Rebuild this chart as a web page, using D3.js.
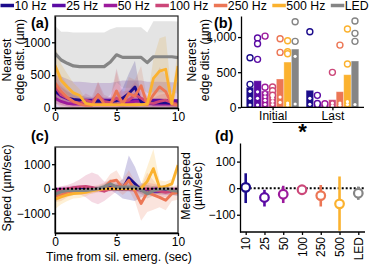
<!DOCTYPE html>
<html lang="en">
<head>
<meta charset="UTF-8">
<title>Distance and speed</title>
<script src="https://cdnjs.cloudflare.com/ajax/libs/d3/7.8.5/d3.min.js"></script>
<style>
  body { margin: 0; background: #fff; }
  svg { font-family: "Liberation Sans", Arial, sans-serif; }
  .axis path, .axis line { stroke: #000; stroke-width: 1.3; }
  .axis text { font-size: 12px; fill: #000; font-family: "Liberation Sans", Arial, sans-serif; }
  .title { font-size: 12.3px; fill: #000; }
  .panel { font-size: 14.5px; font-weight: bold; }
</style>
</head>
<body>
<svg id="chart" width="375" height="264"></svg>
<script>
// series names / colours
const freqs = ["10 Hz", "25 Hz", "50 Hz", "100 Hz", "250 Hz", "500 Hz", "LED"];
const freqTicks = ["10", "25", "50", "100", "250", "500", "LED"];
const colors = ["#1c0c8c", "#5b0ba4", "#9c1a9c", "#cc4779", "#ec7655", "#fbb22f", "#858585"];

const time = [0, 0.5, 1, 1.5, 2, 2.5, 3, 3.5, 4, 4.5, 5, 5.5, 6, 6.5, 7, 7.5, 8, 8.5, 9, 9.5, 10];

// (a) nearest edge distance over time (mean, spread)
const dist10 = [260, 200, 150, 130, 120, 110, 100, 100, 100, 100, 110, 150, 220, 320, 90, 80, 80, 80, 80, 70, 70];
const dist25 = [250, 180, 140, 120, 120, 120, 120, 120, 120, 120, 120, 120, 120, 120, 120, 120, 120, 120, 115, 110, 110];
const dist50 = [150, 100, 70, 60, 60, 60, 60, 60, 60, 60, 60, 60, 80, 100, 100, 80, 60, 60, 60, 60, 60];
const dist100 = [330, 200, 150, 90, 70, 120, 90, 200, 100, 80, 150, 100, 120, 200, 150, 80, 70, 100, 120, 80, 60];
const dist250 = [380, 250, 160, 100, 60, 40, 40, 200, 60, 50, 260, 60, 220, 180, 340, 50, 200, 320, 250, 60, 40];
const dist500 = [650, 420, 320, 230, 190, 70, 50, 50, 50, 50, 50, 50, 50, 50, 50, 60, 450, 560, 590, 70, 640];
const distLED = [830, 730, 680, 640, 630, 630, 630, 630, 630, 700, 810, 770, 770, 770, 770, 690, 780, 780, 780, 780, 765];
const err10 = [150, 120, 100, 80, 70, 60, 60, 60, 60, 60, 80, 150, 300, 400, 80, 60, 60, 60, 60, 60, 60];
const err25 = [250, 300, 300, 280, 280, 270, 260, 260, 260, 260, 280, 300, 300, 300, 300, 280, 280, 280, 280, 280, 280];
const err50 = [80, 60, 50, 40, 40, 40, 40, 40, 40, 40, 40, 40, 50, 60, 60, 50, 40, 40, 40, 40, 40];
const err100 = [200, 150, 120, 100, 80, 100, 80, 200, 100, 80, 450, 150, 150, 200, 150, 100, 80, 100, 100, 80, 60];
const err250 = [300, 250, 200, 150, 80, 60, 60, 200, 80, 60, 300, 80, 250, 250, 300, 80, 200, 300, 250, 80, 60];
const err500 = [300, 250, 200, 150, 100, 60, 40, 40, 40, 40, 40, 40, 40, 40, 40, 60, 300, 500, 500, 100, 300];
const errLED = [420, 430, 480, 510, 520, 520, 520, 520, 520, 500, 420, 460, 460, 460, 460, 460, 540, 540, 540, 540, 550];

// (b) initial / last distance, bar means and single points
const groups = ["Initial", "Last"];
const barInitial = [285, 378, 232, 151, 403, 644, 829];
const barLast = [242, 51, 42, 108, 222, 464, 659];
const ptsInitial = [
  [706, 327, 228, 128, 33],
  [986, 905, 683, 220, 128, 33],
  [1014, 285, 200, 150, 100, 40],
  [290, 235, 172, 130, 85, 40],
  [976, 782, 145, 70],
  [948, 791, 762, 60, 30],
  [1218, 939, 726, 47]
];
const ptsLast = [
  [1076, 128, 42],
  [170, 55, 30],
  [50, 20],
  [498, 60, 20],
  [886, 60, 30],
  [1114, 616, 80, 40],
  [1228, 1053, 939, 40]
];

// (c) speed over time (mean, spread)
const spd10 = [-100, -60, -50, 0, 0, 0, 0, 0, 0, 50, 0, 0, 450, 200, -50, -50, -50, -80, -100, -100, -150];
const spd25 = [-150, -100, -60, -50, -30, -20, 0, 0, 0, 0, 0, 0, 0, 0, -50, -80, -100, -100, -80, -100, -120];
const spd50 = [-50, -20, 0, 30, 50, 20, 0, -20, -50, 0, 30, 0, 0, 0, -30, -50, -20, 0, 0, -50, -50];
const spd100 = [-100, -50, 0, 50, 80, 100, 60, -30, -100, 0, 100, 80, 50, 0, -20, 0, -50, -100, -150, -100, -50];
const spd250 = [-300, -250, -150, -100, -100, -50, -50, 0, 50, 300, 350, 50, 350, -100, -600, -150, -250, -350, -470, -200, -150];
const spd500 = [-430, -330, -250, -200, -180, -150, -80, -30, 0, 0, 0, 0, 0, 0, 20, 300, 820, 50, 100, 200, 960];
const spdLED = [-220, -120, -70, -70, -70, -70, -40, 0, 80, 200, 70, 70, 70, 70, -50, -200, -80, -20, 0, -70, -100];
const sErr10 = [100, 80, 80, 80, 80, 80, 80, 80, 80, 100, 200, 400, 900, 700, 300, 200, 150, 150, 150, 150, 150];
const sErr25 = [150, 100, 100, 80, 80, 80, 80, 80, 80, 80, 80, 80, 80, 80, 100, 100, 100, 100, 100, 100, 100];
const sErr50 = [100, 100, 100, 100, 100, 100, 100, 100, 100, 100, 100, 100, 100, 100, 100, 100, 100, 100, 100, 100, 100];
const sErr100 = [150, 150, 150, 200, 300, 450, 600, 600, 400, 300, 200, 150, 150, 150, 200, 250, 250, 250, 200, 150, 150];
const sErr250 = [250, 250, 200, 150, 150, 150, 150, 150, 200, 300, 400, 300, 400, 400, 700, 800, 600, 400, 400, 300, 300];
const sErr500 = [400, 300, 250, 200, 200, 150, 100, 80, 80, 80, 80, 80, 80, 80, 150, 600, 800, 300, 200, 200, 200];
const sErrLED = [150, 120, 100, 100, 100, 100, 100, 100, 120, 200, 150, 150, 150, 150, 150, 200, 200, 150, 150, 150, 150];

// (d) mean speed with intervals
const meanSpeed = [3, -35, -23, -6, -28, -59, -19];
const speedLo = [-56, -69, -56, -14, -69, -160, -44];
const speedHi = [56, -6, 9, 2, 12, 44, 6];

const distMeans = [dist10, dist25, dist50, dist100, dist250, dist500, distLED];
const distErrs = [err10, err25, err50, err100, err250, err500, errLED];
const spdMeans = [spd10, spd25, spd50, spd100, spd250, spd500, spdLED];
const spdErrs = [sErr10, sErr25, sErr50, sErr100, sErr250, sErr500, sErrLED];
const lineOrder = [1, 2, 0, 3, 4, 5, 6];

const svg = d3.select("#chart");

// legend
let lx = 0;
freqs.forEach((f, i) => {
  const g = svg.append("g").attr("transform", `translate(${lx},0)`);
  g.append("line").attr("x1", 0.5).attr("x2", 14).attr("y1", 5.5).attr("y2", 5.5)
    .attr("stroke", colors[i]).attr("stroke-width", 3.5);
  const t = g.append("text").attr("x", 14.5).attr("y", 10).attr("font-size", 12.3).text(f);
  lx += 14.5 + t.node().getComputedTextLength() + 5;
});

function rotLabel(lines, x0, cy, gap) {
  lines.forEach((s, i) => {
    svg.append("text").attr("class", "title")
      .attr("transform", `translate(${x0 + i * gap},${cy}) rotate(-90)`)
      .attr("text-anchor", "middle").text(s);
  });
}

function timePanel(top, bottom, domain, ticks, means, errs, clip0, id) {
  const x = d3.scaleLinear().domain([0, 10]).range([55, 178]);
  const y = d3.scaleLinear().domain(domain).range([bottom, top]);
  svg.append("clipPath").attr("id", id).append("rect")
    .attr("x", 55).attr("y", top).attr("width", 123).attr("height", bottom - top);
  const g = svg.append("g").attr("clip-path", `url(#${id})`);
  const area = d3.area().x((d, i) => x(time[i]))
    .y0((d, i) => y(clip0 ? Math.max(0, d[0] - d[1]) : d[0] - d[1]))
    .y1((d, i) => y(d[0] + d[1]));
  const line = d3.line().x((d, i) => x(time[i])).y(d => y(d));
  lineOrder.forEach(k => {
    g.append("path").datum(means[k].map((m, i) => [m, errs[k][i]]))
      .attr("d", area).attr("fill", colors[k])
      .attr("opacity", k === 6 ? 0.22 : 0.2);
  });
  lineOrder.forEach(k => {
    g.append("path").datum(means[k]).attr("d", line)
      .attr("fill", "none").attr("stroke", colors[k])
      .attr("stroke-width", k === 6 ? 3.2 : 2.8).attr("stroke-linejoin", "round");
  });
  svg.append("rect").attr("x", 55).attr("y", top).attr("width", 123).attr("height", bottom - top)
    .attr("fill", "none").attr("stroke", "#222").attr("stroke-width", 1.2);
  svg.append("g").attr("class", "axis").attr("transform", `translate(0,${bottom})`)
    .call(d3.axisBottom(x).tickValues([0, 5, 10]).tickSize(3).tickPadding(1.5).tickSizeOuter(0));
  svg.append("g").attr("class", "axis").attr("transform", "translate(55,0)")
    .call(d3.axisLeft(y).tickValues(ticks).tickSize(3).tickPadding(1.5).tickSizeOuter(0)
      .tickFormat(d3.format("d")));
  return { x, y };
}

// (a)
timePanel(16, 108, [0, 1400], [0, 500, 1000], distMeans, distErrs, true, "clipA");
rotLabel(["Nearest", "edge dist. (\u00b5m)"], 11, 60, 13);
svg.append("text").attr("class", "panel").attr("x", 31).attr("y", 28).text("(a)");

// (c)
const c = timePanel(147, 233, [-1800, 1700], [-1000, 0, 1000], spdMeans, spdErrs, false, "clipC");
svg.append("line").attr("x1", 55).attr("x2", 178).attr("y1", c.y(0)).attr("y2", c.y(0))
  .attr("stroke", "#000").attr("stroke-width", 2).attr("stroke-dasharray", "2,2");
rotLabel(["Speed (\u00b5m/sec)"], 11, 188, 0);
svg.append("text").attr("class", "title").attr("x", 119).attr("y", 261)
  .attr("text-anchor", "middle").text("Time from sil. emerg. (sec)");
svg.append("text").attr("class", "panel").attr("x", 31).attr("y", 141).text("(c)");

// (b)
const xb = d3.scaleBand().domain(groups).range([241, 364]).paddingInner(0.12).paddingOuter(0.088);
const xf = d3.scaleBand().domain(freqs).range([0, xb.bandwidth()]);
const yb = d3.scaleLinear().domain([0, 1300]).range([107.3, 16]);
[barInitial, barLast].forEach((bars, gi) => {
  const pts = gi === 0 ? ptsInitial : ptsLast;
  const g = svg.append("g").attr("transform", `translate(${xb(groups[gi])},0)`);
  g.selectAll("rect").data(bars).join("rect")
    .attr("x", (d, i) => xf(freqs[i])).attr("width", xf.bandwidth())
    .attr("y", d => yb(d)).attr("height", d => yb(0) - yb(d))
    .attr("fill", (d, i) => colors[i])
    .attr("stroke", "#fff").attr("stroke-opacity", 0.4).attr("stroke-width", 0.8);
  pts.forEach((vals, i) => {
    g.selectAll(null).data(vals).join("circle")
      .attr("cx", xf(freqs[i]) + xf.bandwidth() / 2)
      .attr("cy", d => yb(d))
      .attr("r", d => d > bars[i] ? 3 : 1.6)
      .attr("fill", "#fff")
      .attr("stroke", d => d > bars[i] ? colors[i] : "none")
      .attr("stroke-width", 1.4);
  });
});
svg.append("g").attr("class", "axis").attr("transform", "translate(0,107.3)")
  .call(d3.axisBottom(d3.scalePoint().domain(groups)
    .range([xb("Initial") + xb.bandwidth() / 2, xb("Last") + xb.bandwidth() / 2]))
    .tickSize(3).tickPadding(1.5).tickSizeOuter(0))
  .call(g => g.select(".domain").attr("d", "M241,0H364"));
svg.append("g").attr("class", "axis").attr("transform", "translate(241,0)")
  .call(d3.axisLeft(yb).tickValues([0, 500, 1000]).tickSize(3).tickPadding(1.5).tickSizeOuter(0));
rotLabel(["Nearest", "edge dist. (\u00b5m)"], 195.5, 60, 13);
svg.append("text").attr("class", "panel").attr("x", 214).attr("y", 28).text("(b)");
const bx0 = xb("Initial") + xb.bandwidth() / 2, bx1 = xb("Last") + xb.bandwidth() / 2;
svg.append("line").attr("x1", bx0).attr("x2", bx1).attr("y1", 122.5).attr("y2", 122.5)
  .attr("stroke", "#000").attr("stroke-width", 1.2);
svg.append("text").attr("x", (bx0 + bx1) / 2).attr("y", 138.5).attr("text-anchor", "middle")
  .attr("font-size", 22).attr("font-weight", "bold").text("*");

// (d)
const xd = d3.scalePoint().domain(freqTicks).range([245.7, 358.3]);
const yd = d3.scaleLinear().domain([-165, 170]).range([232, 143]);
svg.append("line").attr("x1", xd("10")).attr("x2", 365).attr("y1", yd(0)).attr("y2", yd(0))
  .attr("stroke", "#000").attr("stroke-width", 2).attr("stroke-dasharray", "2,2");
freqTicks.forEach((f, i) => {
  svg.append("line").attr("x1", xd(f)).attr("x2", xd(f))
    .attr("y1", yd(speedLo[i])).attr("y2", yd(speedHi[i]))
    .attr("stroke", colors[i]).attr("stroke-width", 2.6);
  svg.append("circle").attr("cx", xd(f)).attr("cy", yd(meanSpeed[i])).attr("r", 4.3)
    .attr("fill", "#fff").attr("stroke", colors[i]).attr("stroke-width", 2.2);
});
svg.append("g").attr("class", "axis").attr("transform", "translate(0,232)")
  .call(d3.axisBottom(xd).tickSize(3).tickSizeOuter(0))
  .call(g => g.select(".domain").attr("d", "M240,0H365"))
  .call(g => g.selectAll("text").attr("transform", "rotate(-90)")
    .attr("x", -5).attr("y", 0).attr("dy", "0.35em").attr("text-anchor", "end"));
svg.append("g").attr("class", "axis").attr("transform", "translate(240,0)")
  .call(d3.axisLeft(yd).tickValues([-100, 0, 100]).tickSize(3).tickPadding(1.5).tickSizeOuter(0));
rotLabel(["Mean speed", "(\u00b5m/sec)"], 190, 186, 12);
svg.append("text").attr("class", "panel").attr("x", 215).attr("y", 141).text("(d)");
</script>
</body>
</html>
